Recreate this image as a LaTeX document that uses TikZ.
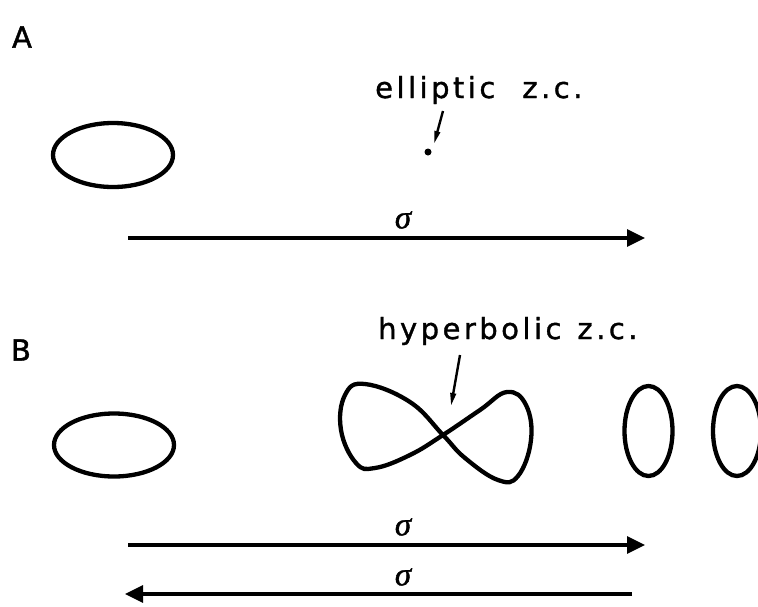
\documentclass[tikz,border=0pt]{standalone}
\usepackage{fontspec}
\setmainfont{Liberation Serif}
\newfontfamily\lblfont[LetterSpace=12,FakeBold=1.2]{DejaVu Sans}
\newfontfamily\panelfont[FakeBold=1.5]{DejaVu Sans}
\newfontfamily\sigfont[FakeBold=1.2]{Liberation Serif}
\usetikzlibrary{shapes.geometric,arrows.meta}
\begin{document}
\begin{tikzpicture}[x=1pt,y=-1pt,
  curve/.style={line width=4.3pt},
  oval/.style={ellipse,draw,line width=4.3pt,inner sep=0pt},
  bigarrow/.style={line width=3.2pt,-{Triangle[length=18pt,width=17pt]}},
  pointer/.style={line width=2.4pt,-{Triangle[length=13pt,width=5.5pt]}},
  lbl/.style={font=\lblfont\fontsize{29}{29}\selectfont,inner sep=0pt},
  panel/.style={font=\panelfont\fontsize{29}{29}\selectfont,inner sep=0pt},
  sig/.style={font=\sigfont\itshape\fontsize{33}{33}\selectfont,inner sep=0pt}]
\useasboundingbox (0,0) rectangle (758,606);
% panel A
\node[panel] (pA) at (22,37) {A};
\node[oval,minimum width=120pt,minimum height=64pt] (eA) at (113,155) {};
\node[lbl,anchor=base west] (tA) at (375,98) {elliptic\hspace{27pt}z.c.};
\coordinate (pAs) at (443,111);
\coordinate (pAe) at (434,144);
\draw[pointer] (pAs) -- (pAe);
\node[circle,fill,inner sep=0pt,minimum size=7pt] (dot) at (428,152) {};
\coordinate (aAs) at (128,238);
\coordinate (aAe) at (645,238);
\draw[bigarrow] (aAs) -- (aAe);
\node[sig] (sA) at (403,220) {σ};
% panel B
\node[panel] (pB) at (21,350) {B};
\node[oval,minimum width=120pt,minimum height=63pt] (eB) at (114,445) {};
\node[lbl,anchor=base west] (tB) at (378,339) {hyperbolic\hspace{16pt}z.c.};
\coordinate (pBs) at (460,355);
\coordinate (pBe) at (451,406);
\draw[pointer] (pBs) -- (pBe);
\draw[curve] plot[smooth cycle,tension=0.7] coordinates {
  (443,435) (480,410) (507,392) (526,405) (531,440) (518,476) (498,480) (465,458)
  (443,435) (410,402) (365,384) (345,395) (341,430) (356,463) (375,468) (410,455)};
\node[oval,minimum width=48pt,minimum height=90pt] (o1) at (648.5,431) {};
\node[oval,minimum width=48pt,minimum height=90pt] (o2) at (737,431) {};
\coordinate (aB1s) at (128,545);
\coordinate (aB1e) at (645,545);
\draw[bigarrow] (aB1s) -- (aB1e);
\node[sig] (sB1) at (403,527) {σ};
\coordinate (aB2s) at (632,594);
\coordinate (aB2e) at (125,594);
\draw[bigarrow] (aB2s) -- (aB2e);
\node[sig] (sB2) at (403,577) {σ};
\end{tikzpicture}
\end{document}
